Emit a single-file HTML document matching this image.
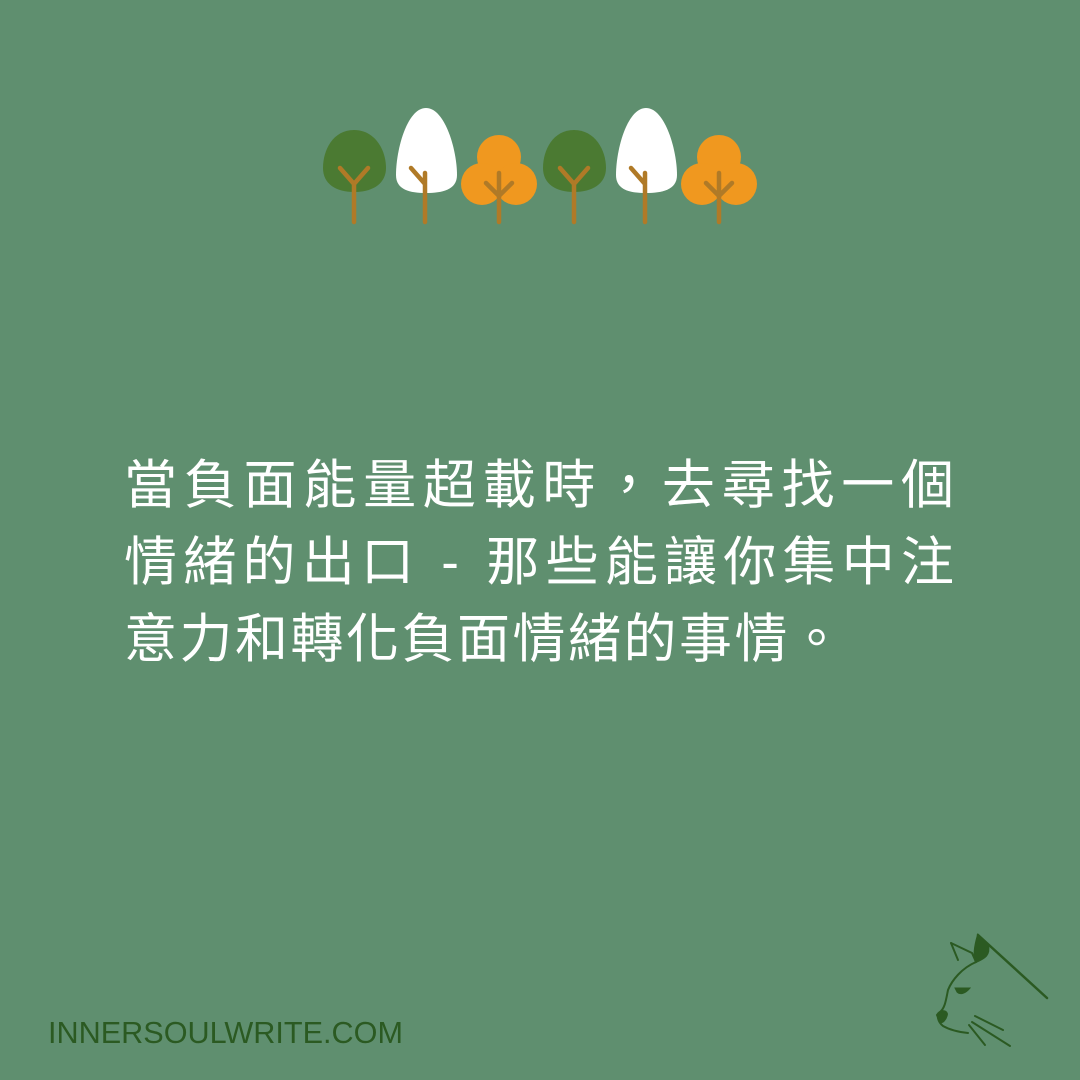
<!DOCTYPE html>
<html><head><meta charset="utf-8"><style>
html,body{margin:0;padding:0;background:#5f8f6f;}
svg{display:block}
</style></head><body>
<svg width="1080" height="1080" viewBox="0 0 1080 1080" xmlns="http://www.w3.org/2000/svg">
<rect width="1080" height="1080" fill="#5f8f6f"/>
<g>
  <g>
    <path d="M354 130 C375 130 386 150 386 168 C386 184 372 192 354 192 C336 192 323 184 323 168 C323 150 333 130 354 130Z" fill="#4b7a32"/>
    <path d="M354 222 V184 M340 168 L354 184 L368 168" stroke="#b07a27" stroke-width="4.5" fill="none" stroke-linecap="round"/>
  </g>
  <g>
    <path d="M426 108 C445 108 457 150 457 175 C457 190 442 193 426 193 C410 193 396 190 396 175 C396 150 407 108 426 108Z" fill="#ffffff"/>
    <path d="M425 222 V173 M411 168 L425 184" stroke="#b07a27" stroke-width="4.5" fill="none" stroke-linecap="round"/>
  </g>
  <g>
    <circle cx="499" cy="157" r="22" fill="#f0981f"/>
    <circle cx="482" cy="184" r="21" fill="#f0981f"/>
    <circle cx="516" cy="184" r="21" fill="#f0981f"/>
    <path d="M499 222 V173 M486 183 L499 196 L512 183" stroke="#b07a27" stroke-width="4.5" fill="none" stroke-linecap="round"/>
  </g>
  <g transform="translate(220 0)">
    <path d="M354 130 C375 130 386 150 386 168 C386 184 372 192 354 192 C336 192 323 184 323 168 C323 150 333 130 354 130Z" fill="#4b7a32"/>
    <path d="M354 222 V184 M340 168 L354 184 L368 168" stroke="#b07a27" stroke-width="4.5" fill="none" stroke-linecap="round"/>
  </g>
  <g transform="translate(220 0)">
    <path d="M426 108 C445 108 457 150 457 175 C457 190 442 193 426 193 C410 193 396 190 396 175 C396 150 407 108 426 108Z" fill="#ffffff"/>
    <path d="M425 222 V173 M411 168 L425 184" stroke="#b07a27" stroke-width="4.5" fill="none" stroke-linecap="round"/>
  </g>
  <g transform="translate(220 0)">
    <circle cx="499" cy="157" r="22" fill="#f0981f"/>
    <circle cx="482" cy="184" r="21" fill="#f0981f"/>
    <circle cx="516" cy="184" r="21" fill="#f0981f"/>
    <path d="M499 222 V173 M486 183 L499 196 L512 183" stroke="#b07a27" stroke-width="4.5" fill="none" stroke-linecap="round"/>
  </g>
</g>
<g fill="#ffffff" font-family="'Liberation Sans','Noto Sans CJK TC',sans-serif" font-size="53">
  <text x="124" y="503" textLength="830" lengthAdjust="spacing">當負面能量超載時，去尋找一個</text>
  <text x="124" y="580" textLength="830" lengthAdjust="spacing">情緒的出口 - 那些能讓你集中注</text>
  <text x="124" y="657" letter-spacing="2.5">意力和轉化負面情緒的事情。</text>
</g>
<text x="48" y="1043" fill="#2b5a22" font-family="'Liberation Sans',sans-serif" font-size="31" textLength="355" lengthAdjust="spacingAndGlyphs">INNERSOULWRITE.COM</text>
<g fill="none" stroke="#2b5a22" stroke-width="2" stroke-linecap="round">
  <path d="M978 935 L1047 998" stroke-width="2.5"/>
  <path d="M978 935 C975 945 973 955 976 962 C985 958 990 955 988 945 Z" fill="#2b5a22"/>
  <path d="M951 943 L972 953 L976 962"/>
  <path d="M951 943 L958 960"/>
  <path d="M976 962 C962 968 952 980 948 990 C946 1000 945 1008 940 1012 C936 1015 938 1022 943 1026 C950 1030 958 1032 968 1033"/>
  <path d="M937 1015 C940 1010 946 1010 947 1014 C946 1020 942 1023 940 1022 Z" fill="#2b5a22"/>
  <path d="M955 988 L970 988 C965 994 960 995 957 992 Z" fill="#2b5a22" stroke-width="1"/>
  <path d="M975 1016 L1003 1030"/>
  <path d="M972 1022 L1010 1046"/>
  <path d="M969 1025 L985 1045"/>
</g>
</svg>
</body></html>
